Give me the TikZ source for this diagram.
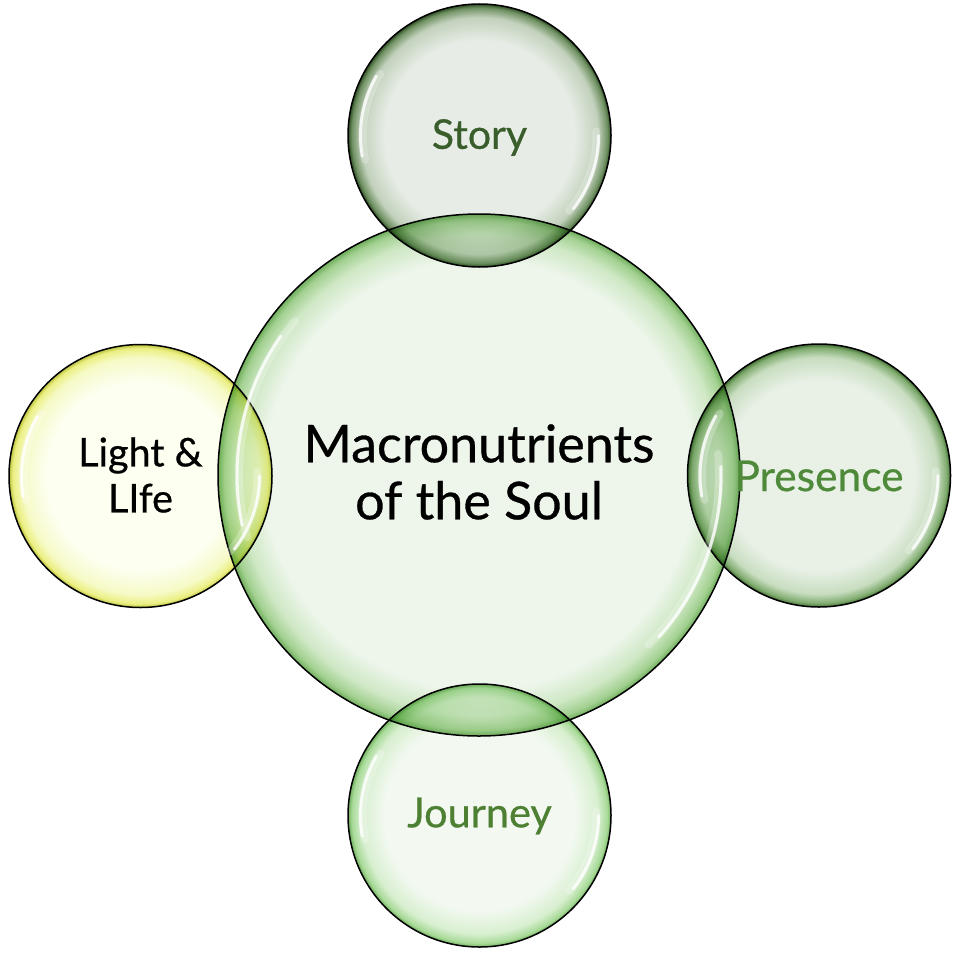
\documentclass[tikz,border=0pt]{standalone}
\usepackage{fontspec}
\setmainfont{Lato}[FakeBold=0.6]
\definecolor{cenIn}{HTML}{EEF6EC}\definecolor{cenMid}{HTML}{CFE8C5}\definecolor{cenRim}{HTML}{A2D090}\definecolor{cenEdge}{HTML}{6FAE5C}
\definecolor{stoIn}{HTML}{E7EDE6}\definecolor{stoMid}{HTML}{C2D1BC}\definecolor{stoRim}{HTML}{6F9162}\definecolor{stoEdge}{HTML}{2F4F24}
\definecolor{preIn}{HTML}{E9F1E7}\definecolor{preMid}{HTML}{C8DDC0}\definecolor{preRim}{HTML}{7FAB6E}\definecolor{preEdge}{HTML}{426E34}
\definecolor{jouIn}{HTML}{F3F9F1}\definecolor{jouMid}{HTML}{D8EFD0}\definecolor{jouRim}{HTML}{A7DA97}\definecolor{jouEdge}{HTML}{70AE5D}
\definecolor{ligIn}{HTML}{FDFFF0}\definecolor{ligMid}{HTML}{F6FAC6}\definecolor{ligRim}{HTML}{EBEF82}\definecolor{ligEdge}{HTML}{BCC240}
\definecolor{stoText}{HTML}{3A5E2B}\definecolor{preText}{HTML}{4E8A3A}\definecolor{jouText}{HTML}{4E8034}
\pgfdeclareradialshading{bubCen}{\pgfpoint{0bp}{0bp}}{color(0bp)=(cenIn); color(20.5bp)=(cenIn); color(23bp)=(cenMid); color(24.4bp)=(cenRim); color(25bp)=(cenEdge); color(50bp)=(cenEdge)}
\pgfdeclareradialshading{bubSto}{\pgfpoint{0bp}{0bp}}{color(0bp)=(stoIn); color(18bp)=(stoIn); color(22.5bp)=(stoMid); color(24.3bp)=(stoRim); color(25bp)=(stoEdge); color(50bp)=(stoEdge)}
\pgfdeclareradialshading{bubPre}{\pgfpoint{0bp}{0bp}}{color(0bp)=(preIn); color(18bp)=(preIn); color(22.5bp)=(preMid); color(24.3bp)=(preRim); color(25bp)=(preEdge); color(50bp)=(preEdge)}
\pgfdeclareradialshading{bubJou}{\pgfpoint{0bp}{0bp}}{color(0bp)=(jouIn); color(18bp)=(jouIn); color(22.5bp)=(jouMid); color(24.3bp)=(jouRim); color(25bp)=(jouEdge); color(50bp)=(jouEdge)}
\pgfdeclareradialshading{bubLig}{\pgfpoint{0bp}{0bp}}{color(0bp)=(ligIn); color(18bp)=(ligIn); color(22.5bp)=(ligMid); color(24.3bp)=(ligRim); color(25bp)=(ligEdge); color(50bp)=(ligEdge)}
\tikzset{
  bubble/.style={circle, inner sep=0pt, outer sep=0pt, minimum size=#1},
  small/.style={bubble=263pt, blend mode=multiply},
  rimline/.style={draw=black, line width=1.5pt},
  gloss/.style={white, line width=3pt, opacity=0.8, line cap=round},
  glosssoft/.style={white, line width=8pt, opacity=0.25, line cap=round},
  bigtext/.style={font=\fontsize{52}{57}\selectfont, align=center, text=black},
  label/.style={font=\fontsize{#1}{46}\selectfont, align=center},
}
\begin{document}
\begin{tikzpicture}[x=1pt,y=-1pt]
\fill[white] (0,0) rectangle (976,960);
\useasboundingbox (0,0) rectangle (976,960);
% central
\node[bubble=522pt, shading=bubCen] (cen) at (479,475) {};
% satellites, multiplied over the central bubble
\node[small, shading=bubSto] (sto) at (479.5,135.5) {};
\node[small, shading=bubPre] (pre) at (819,475.5) {};
\node[small, shading=bubJou] (jou) at (479.5,815.5) {};
\node[small, shading=bubLig] (lig) at (140.5,476) {};
% outlines
\draw[rimline] (cen.center) circle[radius=261pt];
\foreach \n in {sto,pre,jou,lig}{
  \draw[rimline] (\n.center) circle[radius=131.5pt];
}
% gloss highlights
\foreach \n in {sto,pre,jou,lig}{
  \draw[glosssoft] (\n.center) ++(192:117pt) arc[start angle=192, end angle=148, radius=117pt];
  \draw[gloss] (\n.center) ++(190:119pt) arc[start angle=190, end angle=150, radius=119pt];
  \draw[glosssoft] (\n.center) ++(-40:117pt) arc[start angle=-40, end angle=2, radius=117pt];
  \draw[gloss] (\n.center) ++(-38:119pt) arc[start angle=-38, end angle=0, radius=119pt];
}
\draw[glosssoft] (cen.center) ++(195:240pt) arc[start angle=195, end angle=140, radius=240pt];
\draw[gloss] (cen.center) ++(192:242pt) arc[start angle=192, end angle=145, radius=242pt];
\draw[glosssoft] (cen.center) ++(-45:240pt) arc[start angle=-45, end angle=5, radius=240pt];
\draw[gloss] (cen.center) ++(-42:242pt) arc[start angle=-42, end angle=2, radius=242pt];
% texts
\node[bigtext] (cenT) at (479,472) {Macronutrients\\of the Soul};
\node[label=41, text=stoText] (stoT) at (479.5,137.5) {Story};
\node[label=42.5, text=preText] (preT) at (819,476) {Presence};
\node[label=41.5, text=jouText] (jouT) at (479.5,816) {Journey};
\node[label=39.5, text=black] (ligT) at (140.5,475) {Light \&\\LIfe};
\end{tikzpicture}
\end{document}
